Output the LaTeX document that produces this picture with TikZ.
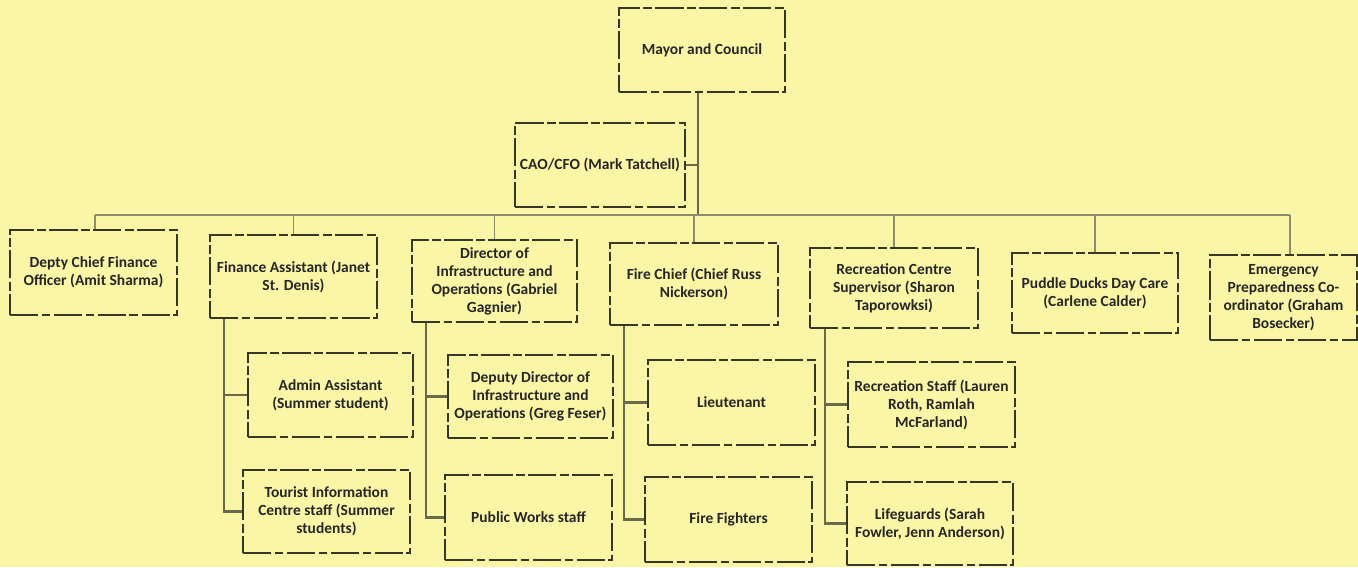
\documentclass[tikz,border=0pt]{standalone}
\usepackage{fontspec}
\setmainfont{Carlito}
\usetikzlibrary{calc}
\definecolor{bg}{RGB}{250,246,166}
\definecolor{edge}{RGB}{55,55,40}
\definecolor{conn}{RGB}{105,105,75}
\definecolor{busc}{RGB}{140,140,110}
\begin{document}
\begin{tikzpicture}[
  box/.style={draw=edge, line width=0.9pt, dash pattern=on 16pt off 2pt on 5pt off 2pt,
    minimum width=3.34cm, minimum height=1.68cm, align=center, inner sep=1pt,
    font=\bfseries\fontsize{8.8}{10.2}\selectfont, text=black!85},
  link/.style={draw=conn, line width=1.3pt},
  buslink/.style={draw=busc, line width=1.1pt}
]
\fill[bg] (0,0) rectangle (27.16,-11.34);
\useasboundingbox (0,0) rectangle (27.16,-11.34);

\node[box, minimum width=3.32cm] (mayor) at (14.04,-1.00) {Mayor and Council};
\node[box, minimum width=3.40cm] (cao) at (12.00,-3.30) {CAO/CFO (Mark Tatchell)};

\node[box, minimum height=1.70cm] (depty) at (1.87,-5.45) {Depty Chief Finance\\Officer (Amit Sharma)};
\node[box, minimum height=1.66cm] (fin) at (5.87,-5.53) {Finance Assistant (Janet\\St. Denis)};
\node[box, minimum width=3.30cm, minimum height=1.64cm] (dir) at (9.89,-5.62) {Director of\\Infrastructure and\\Operations (Gabriel\\Gagnier)};
\node[box, minimum width=3.36cm, minimum height=1.64cm] (fire) at (13.88,-5.68) {Fire Chief (Chief Russ\\Nickerson)};
\node[box, minimum width=3.36cm, minimum height=1.60cm] (rec) at (17.88,-5.76) {Recreation Centre\\Supervisor (Sharon\\Taporowksi)};
\node[box, minimum width=3.32cm, minimum height=1.60cm] (puddle) at (21.90,-5.86) {Puddle Ducks Day Care\\(Carlene Calder)};
\node[box, minimum width=2.94cm, minimum height=1.70cm] (emerg) at (25.67,-5.95) {Emergency\\Preparedness Co-\\ordinator (Graham\\Bosecker)};

\node[box, minimum width=3.30cm] (admin) at (6.61,-7.90) {Admin Assistant\\(Summer student)};
\node[box, minimum height=1.66cm] (tour) at (6.53,-10.23) {Tourist Information\\Centre staff (Summer\\students)};
\node[box, minimum width=3.30cm, minimum height=1.66cm] (ddir) at (10.61,-7.93) {Deputy Director of\\Infrastructure and\\Operations (Greg Feser)};
\node[box, minimum height=1.70cm] (pw) at (10.57,-10.35) {Public Works staff};
\node[box, minimum height=1.70cm] (lieu) at (14.63,-8.05) {Lieutenant};
\node[box, minimum height=1.70cm] (ff) at (14.57,-10.39) {Fire Fighters};
\node[box, minimum height=1.70cm] (rstaff) at (18.63,-8.09) {Recreation Staff (Lauren\\Roth, Ramlah\\McFarland)};
\node[box, minimum width=3.32cm, minimum height=1.66cm] (life) at (18.60,-10.47) {Lifeguards (Sarah\\Fowler, Jenn Anderson)};

% trunk and bus
\coordinate (busc) at ($(mayor.south)+(-0.08,0)$);
\coordinate (bus) at (busc |- 0,-4.30);
\draw[link] (busc) -- (bus);
\draw[link] (cao.east) -- (cao.east -| busc);
\coordinate (busL) at (1.90,-4.30);
\coordinate (busR) at (25.80,-4.30);
\draw[buslink] (busL) -- (busR);
\draw[buslink] (busL) -- (busL |- depty.north);
\draw[buslink] (bus -| fin.north) -- (fin.north);
\draw[buslink] (bus -| dir.north) -- (dir.north);
\draw[buslink] (bus -| fire.north) -- (fire.north);
\draw[buslink] (bus -| rec.north) -- (rec.north);
\draw[buslink] (bus -| puddle.north) -- (puddle.north);
\draw[buslink] (busR) -- (busR |- emerg.north);

% sub-branches
\coordinate (finS) at ($(fin.south west)+(0.30,0)$);
\draw[link] (finS) |- (admin.west);
\draw[link] (finS) |- (tour.west);
\coordinate (dirS) at ($(dir.south west)+(0.30,0)$);
\draw[link] (dirS) |- (ddir.west);
\draw[link] (dirS) |- (pw.west);
\coordinate (fireS) at ($(fire.south west)+(0.30,0)$);
\draw[link] (fireS) |- (lieu.west);
\draw[link] (fireS) |- (ff.west);
\coordinate (recS) at ($(rec.south west)+(0.32,0)$);
\draw[link] (recS) |- (rstaff.west);
\draw[link] (recS) |- (life.west);
\end{tikzpicture}
\end{document}
